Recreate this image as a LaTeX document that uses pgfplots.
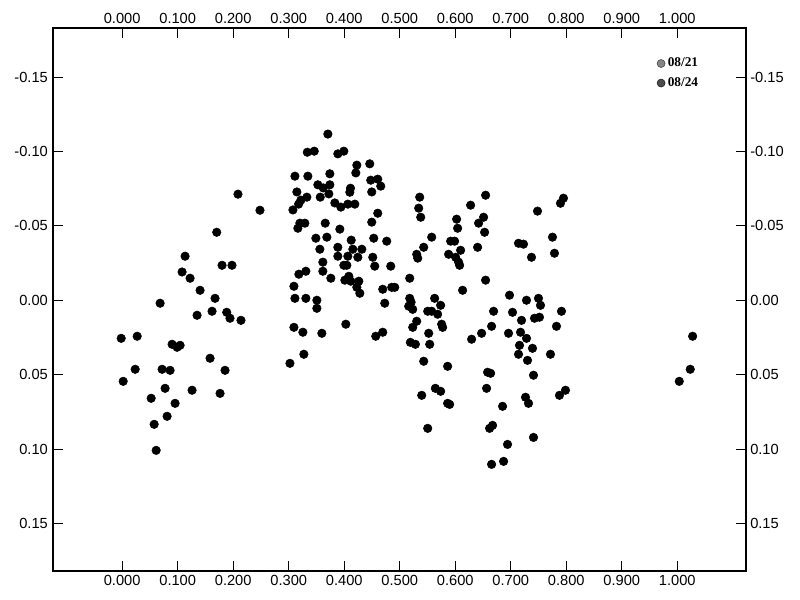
\documentclass[border=0pt]{standalone}
\usepackage{pgfplots}
\pgfplotsset{compat=1.18}
\usepackage{pgfplotstable}
\usepackage{fontspec}
\setmainfont{Liberation Sans}
\newfontfamily\legfont{Liberation Serif}

\pgfplotstableread{
x y
0.2086 -0.0713
0.2482 -0.0605
0.1703 -0.0457
0.1133 -0.0296
0.1799 -0.0235
0.1978 -0.0235
0.1079 -0.0190
0.1223 -0.0148
0.1403 -0.0067
0.1673 -0.0013
0.0683 0.0020
0.1349 0.0101
0.1619 0.0074
0.1883 0.0081
0.1942 0.0121
0.2140 0.0135
-0.0018 0.0256
0.0270 0.0242
0.0899 0.0296
0.0989 0.0316
0.1043 0.0303
0.1583 0.0390
0.0234 0.0464
0.0719 0.0464
0.0863 0.0471
0.1853 0.0471
0.0018 0.0545
0.0773 0.0592
0.1259 0.0605
0.1763 0.0626
0.0522 0.0659
0.0953 0.0693
0.0809 0.0780
0.0576 0.0834
0.0612 0.1009
0.3705 -0.1117
0.3335 -0.0995
0.3460 -0.1002
0.3885 -0.0984
0.3993 -0.1002
0.4227 -0.0908
0.4460 -0.0917
0.4209 -0.0856
0.3112 -0.0834
0.3345 -0.0834
0.3741 -0.0850
0.3525 -0.0776
0.3622 -0.0755
0.3741 -0.0776
0.3723 -0.0715
0.4113 -0.0753
0.4101 -0.0726
0.4478 -0.0807
0.4604 -0.0814
0.4658 -0.0767
0.4496 -0.0728
0.3147 -0.0728
0.3219 -0.0673
0.3327 -0.0693
0.3568 -0.0693
0.3178 -0.0646
0.3076 -0.0607
0.3831 -0.0654
0.3939 -0.0626
0.4065 -0.0646
0.4191 -0.0646
0.4604 -0.0585
0.3201 -0.0518
0.3291 -0.0518
0.3165 -0.0484
0.3658 -0.0518
0.3921 -0.0478
0.4496 -0.0525
0.3489 -0.0417
0.3687 -0.0424
0.4126 -0.0404
0.4532 -0.0417
0.4766 -0.0397
0.3561 -0.0343
0.3885 -0.0356
0.4155 -0.0343
0.4317 -0.0343
0.3885 -0.0296
0.4065 -0.0296
0.4245 -0.0289
0.4514 -0.0289
0.3615 -0.0256
0.3993 -0.0235
0.4047 -0.0235
0.4550 -0.0229
0.4838 -0.0229
0.3615 -0.0195
0.3183 -0.0175
0.3309 -0.0195
0.3759 -0.0148
0.4011 -0.0135
0.4083 -0.0161
0.4119 -0.0128
0.4263 -0.0128
0.4227 -0.0087
0.4281 -0.0047
0.3094 -0.0094
0.3112 -0.0013
0.3309 -0.0013
0.3507 0.0000
0.3507 0.0054
0.4694 -0.0074
0.4856 -0.0087
0.4910 -0.0087
0.4730 0.0020
0.3094 0.0182
0.3255 0.0215
0.3597 0.0222
0.4029 0.0161
0.4568 0.0242
0.4694 0.0215
0.3273 0.0363
0.3022 0.0424
0.5360 -0.0693
0.5342 -0.0619
0.5378 -0.0558
0.6547 -0.0706
0.6277 -0.0639
0.6025 -0.0545
0.6043 -0.0484
0.6511 -0.0558
0.6421 -0.0518
0.6529 -0.0457
0.7950 -0.0686
0.7896 -0.0652
0.7482 -0.0599
0.5576 -0.0424
0.5432 -0.0356
0.5306 -0.0309
0.5324 -0.0283
0.5917 -0.0397
0.5989 -0.0397
0.6097 -0.0336
0.5881 -0.0309
0.6007 -0.0289
0.6061 -0.0256
0.6079 -0.0235
0.6403 -0.0356
0.7140 -0.0383
0.7230 -0.0377
0.7752 -0.0424
0.7788 -0.0316
0.7374 -0.0289
0.5180 -0.0148
0.6547 -0.0135
0.6133 -0.0067
0.5180 -0.0013
0.5162 0.0040
0.5234 0.0061
0.5205 0.0013
0.5629 -0.0013
0.5737 0.0034
0.5504 0.0074
0.5576 0.0074
0.5683 0.0094
0.5306 0.0141
0.5234 0.0182
0.5755 0.0161
0.5773 0.0182
0.6978 -0.0034
0.7284 0.0000
0.7500 -0.0013
0.7536 0.0034
0.6691 0.0074
0.7032 0.0081
0.7194 0.0135
0.7428 0.0121
0.7518 0.0114
0.7914 0.0074
0.6655 0.0175
0.6475 0.0222
0.6295 0.0262
0.6960 0.0222
0.7176 0.0215
0.7284 0.0256
0.7824 0.0175
0.5522 0.0222
0.5192 0.0283
0.5282 0.0296
0.5540 0.0296
0.7158 0.0303
0.7392 0.0323
0.7140 0.0363
0.7302 0.0404
0.7716 0.0363
0.5432 0.0410
0.5863 0.0444
0.6583 0.0484
0.6637 0.0491
0.7410 0.0504
0.5642 0.0592
0.5737 0.0612
0.5396 0.0639
0.6565 0.0592
0.5863 0.0693
0.5899 0.0700
0.7266 0.0652
0.7320 0.0693
0.6853 0.0713
0.7878 0.0639
0.7986 0.0605
0.5504 0.0861
0.6619 0.0861
0.6673 0.0841
0.7410 0.0922
0.6942 0.0969
0.6871 0.1083
0.6655 0.1103
1.0277 0.0242
1.0234 0.0464
1.0036 0.0545
}\pointdata

\pgfplotsset{
  commonaxis/.style={
    scale only axis, width=519.75pt, height=407.25pt,
    at={(0,0)}, anchor=south west,
    xmin=-0.1255, xmax=1.123, ymin=-0.183, ymax=0.182, y dir=reverse,
    xtick={0,0.1,0.2,0.3,0.4,0.5,0.6,0.7,0.8,0.9,1},
    ytick={-0.15,-0.1,-0.05,0,0.05,0.1,0.15},
    minor tick num=0,
    tick align=inside, tick pos=both,
    major tick length=7.5pt,
    every tick/.style={black, line width=0.75pt},
    axis line style={black, line width=1.5pt},
    scaled ticks=false,
    /pgf/number format/assume math mode=true,
    tick label style={font=\fontsize{11}{13}\selectfont},
    xticklabel style={/pgf/number format/.cd, fixed, fixed zerofill, precision=3},
    yticklabel style={/pgf/number format/.cd, fixed, fixed zerofill, precision=2},
  }
}

\begin{document}
\begin{tikzpicture}
\path[use as bounding box] (-39.4pt,-21.75pt) rectangle (560.6pt,428.25pt);
\begin{axis}[commonaxis,
  xticklabel pos=lower, yticklabel pos=left,
  legend style={at={(0.872,0.950)}, anchor=north west, draw=none, fill=none,
    inner sep=0pt, row sep=2.5pt,
    font=\legfont\bfseries\fontsize{10}{12}\selectfont},
  legend cell align=left,
  legend image code/.code={\draw[mark repeat=2,mark phase=2,#1] plot coordinates {(0cm,0cm) (0.13cm,0cm) (0.26cm,0cm)};},
]
\addplot[only marks, mark=*, mark size=3.2pt, black, mark options={fill=black}, forget plot] table[x=x,y=y] {\pointdata};
\addlegendimage{only marks, mark=*, mark size=3pt, draw=black!75, fill=black!48}
\addlegendentry{08/21}
\addlegendimage{only marks, mark=*, mark size=3pt, draw=black!90, fill=black!70}
\addlegendentry{08/24}
\end{axis}
\begin{axis}[commonaxis,
  xticklabel pos=upper, yticklabel pos=right,
]
\end{axis}
\end{tikzpicture}
\end{document}
